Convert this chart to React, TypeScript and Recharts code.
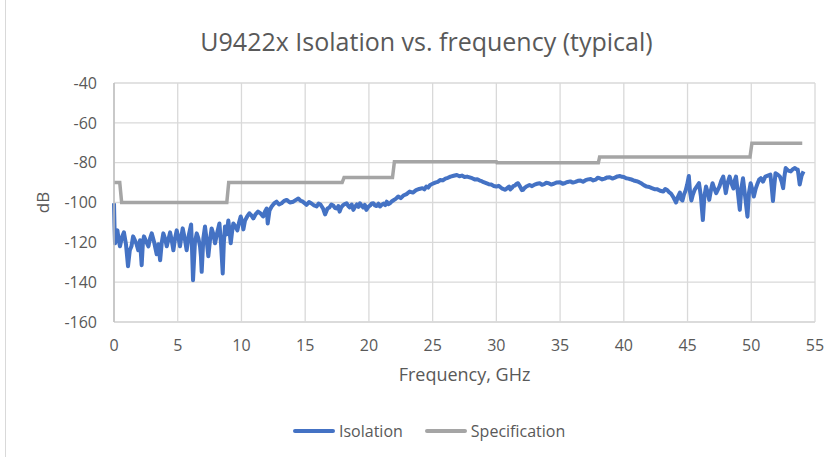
import React from "react";
import { LineChart, Line, XAxis, YAxis, CartesianGrid, Legend } from "recharts";

const isoFreq = [
  0, 0.04, 0.08, 0.17, 0.27, 0.37, 0.47, 0.62, 0.78, 0.94, 1.1, 1.24, 1.37, 1.5, 1.64, 1.77, 1.9, 2.04, 2.17, 2.26,
  2.35, 2.52, 2.7, 2.83, 2.96, 3.15, 3.35, 3.48, 3.62, 3.75, 3.87, 4.0, 4.14, 4.27, 4.4, 4.53, 4.66, 4.79, 4.92, 5.05,
  5.18, 5.29, 5.39, 5.55, 5.7, 5.88, 6.05, 6.12, 6.2, 6.35, 6.49, 6.62, 6.75, 6.82, 6.88, 7.01, 7.14, 7.27, 7.4, 7.53,
  7.66, 7.8, 7.93, 8.1, 8.27, 8.4, 8.53, 8.62, 8.71, 8.84, 8.97, 9.06, 9.16, 9.26, 9.36, 9.52, 9.68, 9.81, 9.94, 10.05,
  10.15, 10.28, 10.45, 10.62, 10.78, 10.93, 11.1, 11.3, 11.5, 11.7, 11.85, 11.98, 12.06, 12.2, 12.37, 12.56, 12.76, 12.95, 13.15, 13.35,
  13.55, 13.8, 14.07, 14.25, 14.46, 14.65, 14.8, 14.95, 15.1, 15.3, 15.5, 15.7, 15.9, 16.05, 16.2, 16.4, 16.56, 16.75, 16.9, 17.05,
  17.2, 17.35, 17.5, 17.6, 17.7, 17.82, 17.95, 18.1, 18.25, 18.38, 18.5, 18.65, 18.78, 18.92, 19.05, 19.18, 19.3, 19.42, 19.55, 19.68,
  19.8, 19.95, 20.1, 20.22, 20.35, 20.48, 20.6, 20.75, 20.87, 21.0, 21.15, 21.28, 21.4, 21.53, 21.66, 21.78, 21.9, 22.1, 22.3, 22.5,
  22.7, 22.95, 23.2, 23.45, 23.7, 23.95, 24.2, 24.35, 24.5, 24.65, 24.8, 25.0, 25.2, 25.4, 25.6, 25.8, 26.0, 26.2, 26.4, 26.65,
  26.9, 27.1, 27.3, 27.5, 27.7, 27.9, 28.1, 28.3, 28.5, 28.7, 28.85, 29.0, 29.2, 29.4, 29.6, 29.8, 30.0, 30.18, 30.35, 30.52,
  30.7, 30.85, 31.0, 31.1, 31.2, 31.32, 31.45, 31.58, 31.7, 31.8, 31.9, 32.0, 32.1, 32.22, 32.35, 32.48, 32.6, 32.8, 33.0, 33.2,
  33.4, 33.58, 33.75, 33.92, 34.1, 34.3, 34.5, 34.75, 35.0, 35.2, 35.4, 35.6, 35.8, 36.0, 36.2, 36.4, 36.6, 36.8, 37.0, 37.2,
  37.4, 37.6, 37.8, 37.95, 38.1, 38.3, 38.5, 38.7, 38.9, 39.1, 39.3, 39.5, 39.7, 39.85, 40.0, 40.18, 40.35, 40.52, 40.7, 40.85,
  41.0, 41.2, 41.4, 41.6, 41.8, 42.0, 42.2, 42.4, 42.6, 42.85, 43.1, 43.25, 43.4, 43.55, 43.7, 43.9, 44.1, 44.25, 44.4, 44.5,
  44.6, 44.72, 44.85, 44.97, 45.1, 45.2, 45.3, 45.42, 45.55, 45.72, 45.9, 46.05, 46.2, 46.32, 46.45, 46.58, 46.7, 46.83, 46.96, 47.1,
  47.25, 47.38, 47.5, 47.65, 47.8, 47.9, 48.0, 48.15, 48.3, 48.45, 48.6, 48.7, 48.8, 48.95, 49.1, 49.22, 49.35, 49.52, 49.7, 49.82,
  49.95, 50.08, 50.2, 50.35, 50.5, 50.62, 50.75, 50.92, 51.1, 51.3, 51.5, 51.6, 51.7, 51.8, 51.9, 52.08, 52.25, 52.38, 52.5, 52.6,
  52.7, 52.9, 53.1, 53.25, 53.4, 53.52, 53.65, 53.72, 53.8, 53.95, 54.1,
];
const isoDb = [
  -100.4, -112, -120.5, -117, -114, -119, -122, -117.5, -115, -121, -132, -124, -122, -117, -119, -121, -124, -119, -131.5, -121,
  -117, -119.5, -122, -118, -115.5, -120, -126, -121, -129, -120, -115.5, -118, -122, -118.5, -115, -119, -124, -118, -114, -117.5,
  -122, -117, -113, -118, -124, -116, -111, -123, -139, -120, -115.5, -118, -122, -127, -134.8, -118, -112, -119, -127, -119,
  -113, -116, -120.5, -115, -110.5, -121, -135.6, -120, -112, -116, -109, -114, -120.5, -115, -110.5, -112, -114, -110, -107, -109.5,
  -113.5, -109, -107, -105.4, -106.5, -108, -106, -104.6, -105.5, -107, -104.5, -103, -110.5, -104, -102, -100.5, -99.6, -101, -100.4, -99.2,
  -98.7, -100, -99.6, -98.8, -98, -99.2, -99.5, -100.3, -101.2, -99.8, -100.5, -101.5, -102, -100.5, -101, -103, -106, -103, -102.5, -101,
  -101.5, -102.8, -103, -101.8, -104.6, -102.5, -101.5, -100.8, -100.4, -101.8, -102.5, -101, -103.7, -102, -101, -102.2, -100.4, -101.5, -102.5, -101.2,
  -103.7, -102.2, -101.5, -100.5, -100.4, -101.5, -101.8, -100.6, -102, -101.2, -100.5, -101.3, -99.6, -100.8, -100.4, -99.5, -99, -98.2, -97, -97.8,
  -96.5, -95.8, -94.5, -95, -93.8, -93.2, -92.8, -93.4, -92, -92.5, -91.2, -90.6, -90, -89.6, -88.7, -88.9, -88, -87.6, -87, -86.6,
  -86.2, -86.8, -86.5, -87.2, -87, -87.4, -87.8, -88.4, -88.3, -89, -89.3, -89.8, -90.3, -90.8, -91, -91.7, -92, -91.6, -92.5, -93.2,
  -93.6, -92.8, -92, -93.4, -92.8, -91.8, -91.5, -90.6, -90.3, -91.4, -92.5, -93.8, -93.6, -92.6, -92, -91.6, -91.2, -91.8, -91, -90.6,
  -90.3, -91.1, -90.8, -90.1, -90.3, -91, -90.6, -89.9, -89.8, -90.6, -90.2, -89.7, -89.4, -90, -89.6, -89.1, -89, -89.6, -88.8, -88.4,
  -88.2, -88.9, -88.5, -87.6, -87.8, -88.4, -88, -87.4, -87.3, -88, -87.5, -86.9, -86.7, -87.1, -87.2, -87.8, -88, -88.3, -88.7, -89.1,
  -89.3, -89.8, -90.5, -91.4, -92, -92.2, -92.8, -93.3, -93.3, -94.1, -94.5, -93.2, -93.7, -94.8, -95.5, -97.5, -100, -97, -95, -98.5,
  -99, -96, -94, -91, -86.7, -95, -99, -96, -93.7, -92, -90.3, -97, -108.8, -97, -92, -95, -98.7, -94, -90.3, -93,
  -95.3, -93.5, -92, -89, -87, -91, -95.3, -90, -87, -90.5, -93, -89, -87, -95, -103.7, -93, -87.8, -97, -107.1, -95,
  -90.3, -93.5, -97, -93, -90.3, -88.5, -87.8, -89.5, -87, -86.5, -86, -92, -99.3, -92, -85.3, -86, -87, -89.5, -92.8, -87,
  -82.7, -84, -84.4, -83.4, -82.7, -83.2, -83.5, -87, -91, -86.5, -84.4,
];

const specFreq = [0, 0.45, 0.6, 8.85, 9.0, 17.9, 18.05, 21.85, 22.0, 30.0, 30.05, 38.0, 38.1, 49.9, 50.05, 54.0];
const specDb = [-90, -90, -100, -100, -90, -90, -87.5, -87.5, -79.5, -79.5, -80.1, -80.1, -77.2, -77.2, -70.2, -70.2];

const xTicks = [0, 5, 10, 15, 20, 25, 30, 35, 40, 45, 50, 55];
const yTicks = [-160, -140, -120, -100, -80, -60, -40];

const isoData = isoFreq.map((f, i) => ({ f, v: isoDb[i] }));
const specData = specFreq.map((f, i) => ({ f, v: specDb[i] }));

const FONT = "'Open Sans', sans-serif";
const TXT = "#595959";

const LegendContent = (props: any) => {
  const items = props.payload || [];
  return (
    <div style={{ display: "flex", alignItems: "center", fontFamily: FONT, fontSize: 16, color: TXT }}>
      {items.map((it: any, i: number) => (
        <div key={i} style={{ display: "flex", alignItems: "center", marginRight: i === 0 ? 22 : 0 }}>
          <div style={{ width: 42, height: 4, background: it.color, borderRadius: 2, marginRight: 4 }} />
          <span>{it.value}</span>
        </div>
      ))}
    </div>
  );
};

export default function App() {
  return (
    <div style={{ position: "absolute", left: 0, top: 0, width: 837, height: 457, background: "#fff" }}>
      <div style={{ position: "absolute", left: 5, top: 0, width: 1, height: 457, background: "#D9D9D9" }} />
      <div
        style={{
          position: "absolute",
          left: 0,
          top: 24,
          width: 853,
          textAlign: "center",
          fontFamily: FONT,
          fontSize: 25,
          color: TXT,
          lineHeight: "34px",
        }}
      >
        U9422x Isolation vs. frequency (typical)
      </div>
      <LineChart width={837} height={457} margin={{ top: 83, right: 22, bottom: 105, left: 54 }}>
        <CartesianGrid stroke="#D9D9D9" strokeWidth={1.3} />
        <XAxis
          type="number"
          dataKey="f"
          domain={[0, 55]}
          ticks={xTicks}
          interval={0}
          height={30}
          tickLine={false}
          tickSize={0}
          tickMargin={18}
          axisLine={{ stroke: "#D9D9D9", strokeWidth: 1.3 }}
          tick={{ fill: TXT, fontSize: 16, fontFamily: FONT }}
          label={{ value: "Frequency, GHz", position: "bottom", offset: 16, fill: TXT, fontSize: 18, fontFamily: FONT }}
        />
        <YAxis
          type="number"
          domain={[-160, -40]}
          ticks={yTicks}
          interval={0}
          width={60}
          tickLine={false}
          tickSize={0}
          tickMargin={17}
          axisLine={{ stroke: "#BFBFBF", strokeWidth: 1.5 }}
          tick={{ fill: TXT, fontSize: 16, fontFamily: FONT }}
          label={{
            content: (p: any) => {
              const vb = p.viewBox || { x: 0, y: 0, width: 0, height: 0 };
              const cx = 42;
              const cy = vb.y + vb.height / 2;
              return (
                <text
                  x={cx}
                  y={cy}
                  transform={`rotate(-90 ${cx} ${cy})`}
                  textAnchor="middle"
                  dominantBaseline="central"
                  fill={TXT}
                  fontSize={17}
                  fontFamily={FONT}
                >
                  dB
                </text>
              );
            },
          }}
        />
        <Legend
          layout="horizontal"
          verticalAlign="middle"
          align="center"
          content={<LegendContent />}
          wrapperStyle={{ position: "absolute", left: 293, top: 420, width: "auto", height: 22 }}
        />
        <Line
          data={isoData}
          dataKey="v"
          name="Isolation"
          stroke="#4472C4"
          strokeWidth={4}
          strokeLinejoin="round"
          dot={false}
          activeDot={false}
          type="linear"
          isAnimationActive={false}
        />
        <Line
          data={specData}
          dataKey="v"
          name="Specification"
          stroke="#A5A5A5"
          strokeWidth={3.5}
          dot={false}
          activeDot={false}
          type="linear"
          isAnimationActive={false}
        />
      </LineChart>
    </div>
  );
}
